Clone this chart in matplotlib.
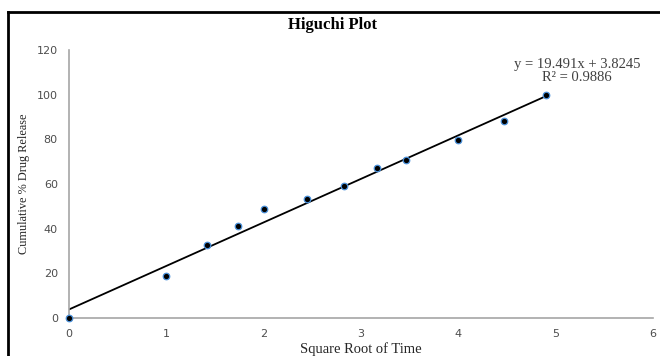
import numpy as np
import matplotlib.pyplot as plt
from matplotlib.lines import Line2D

# Higuchi model: cumulative release vs square root of time
sqrt_time = [0, 1, 1.414, 1.732, 2, 2.449, 2.828, 3.162, 3.464, 4, 4.472, 4.899]
release = [0, 18.7, 32.7, 41.2, 48.8, 53.4, 59.1, 67.0, 70.8, 79.7, 88.2, 99.7]

slope = 19.491
intercept = 3.8245
r_squared = 0.9886

x_ticks = [0, 1, 2, 3, 4, 5, 6]
y_ticks = [0, 20, 40, 60, 80, 100, 120]

fig = plt.figure(figsize=(6.6, 3.56), dpi=100)
ax = fig.add_axes([0.1045, 0.1067, 0.8849, 0.7529])

# linear trendline over the data range
xfit = np.array([0, max(sqrt_time)])
ax.plot(xfit, slope * xfit + intercept, color='black', linewidth=1.3, zorder=2)

ax.scatter(sqrt_time, release, s=22, color='black', edgecolors='#4a90d9',
           linewidths=0.9, zorder=3, clip_on=False)

ax.set_xlim(0, 6)
ax.set_ylim(0, 120)
ax.set_xticks(x_ticks)
ax.set_yticks(y_ticks)
ax.tick_params(length=0, labelsize=8, colors='#4d4d4d', pad=8)
for lab in ax.get_xticklabels() + ax.get_yticklabels():
    lab.set_family('DejaVu Sans')

for side in ['top', 'right']:
    ax.spines[side].set_visible(False)
for side in ['left', 'bottom']:
    ax.spines[side].set_color('#a6a6a6')
    ax.spines[side].set_linewidth(1.2)

ax.set_xlabel('Square Root of Time', family='Liberation Serif', fontsize=10.5,
              color='#262626', labelpad=2)
ax.set_ylabel('Cumulative % Drug Release', family='Liberation Serif', fontsize=8.8,
              color='#262626', labelpad=5)

fig.text(0.504, 0.93, 'Higuchi Plot', ha='center', va='center',
         family='Liberation Serif', fontsize=12, fontweight='bold')

ax.text(5.22, 110.5, f'y = {slope}x + {intercept}\nR² = {r_squared}', ha='center',
        va='center', family='Liberation Serif', fontsize=10.5, color='#404040',
        linespacing=0.95)

# frame lines on the left and top of the figure
fig.add_artist(Line2D([8 / 660, 8 / 660], [0, 1 - 12 / 356], transform=fig.transFigure,
                      color='black', linewidth=2))
fig.add_artist(Line2D([8 / 660, 1], [1 - 12 / 356, 1 - 12 / 356], transform=fig.transFigure,
                      color='black', linewidth=2))

fig.savefig('out.png', dpi=100)
